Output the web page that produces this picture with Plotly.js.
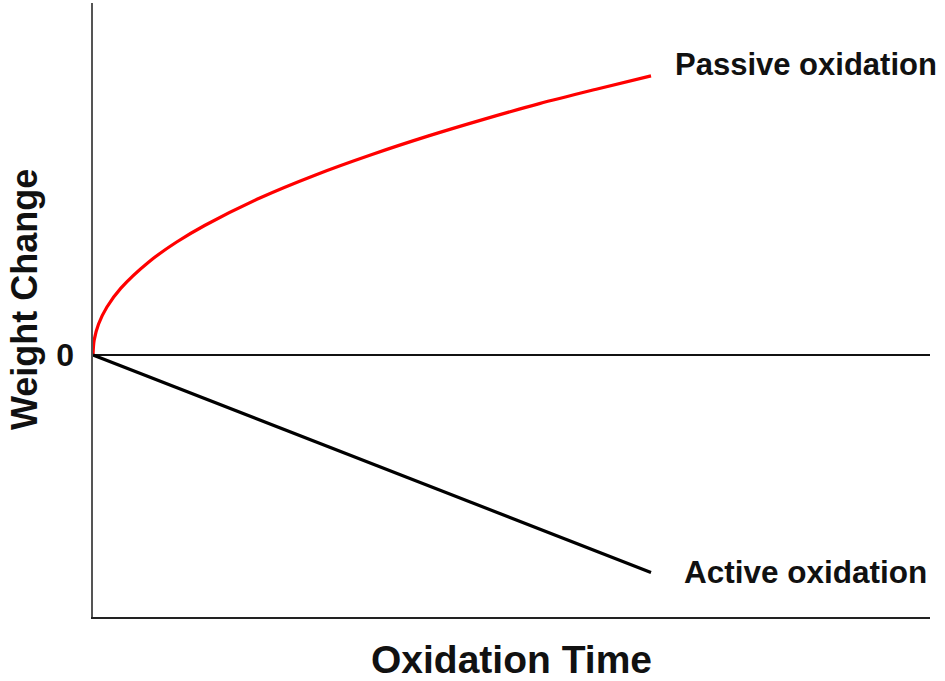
<!DOCTYPE html>
<html>
<head>
<meta charset="utf-8">
<script src="https://cdn.plot.ly/plotly-3.0.1.min.js"></script>
<style>html,body{margin:0;padding:0;background:#fff;}#chart{width:945px;height:681px;}</style>
</head>
<body>
<div id="chart"></div>
<script>
// Passive oxidation (parabolic weight gain)
const passiveTime = [0, 0.02, 0.1, 0.25, 0.5, 1, 1.5, 2, 3, 4, 5, 6, 7, 8, 9, 10];
const passiveWeight = [0, 0.55, 1.18, 1.83, 2.55, 3.55, 4.31, 4.94, 6.0, 6.88, 7.65, 8.35, 8.99, 9.59, 10.13, 10.65];
// Active oxidation (linear weight loss)
const activeTime = [0, 10];
const activeWeight = [0, -8.3];
const seriesNames = ["Passive oxidation", "Active oxidation"];
const axisTitles = ["Oxidation Time", "Weight Change"];
const yTickVals = [0];
const yTickText = ["0"];

const FONT = "Liberation Sans, Arial, sans-serif";

const data = [
  {x: passiveTime, y: passiveWeight, mode: "lines", name: seriesNames[0],
   line: {color: "#ff0000", width: 3.2, shape: "spline", smoothing: 0.8}, hoverinfo: "skip"},
  {x: activeTime, y: activeWeight, mode: "lines", name: seriesNames[1],
   line: {color: "#000000", width: 3.2}, hoverinfo: "skip"}
];

const layout = {
  width: 945, height: 681,
  margin: {l: 93, r: 15, t: 3, b: 64},
  paper_bgcolor: "#fff", plot_bgcolor: "#fff",
  showlegend: false,
  font: {family: FONT, color: "#111"},
  xaxis: {
    range: [0, 15], showgrid: false, zeroline: false,
    showline: true, linecolor: "#222", linewidth: 2,
    showticklabels: false, ticks: "", fixedrange: true,
    title: {text: axisTitles[0], font: {family: FONT, size: 39, weight: "bold", color: "#111"}, standoff: 30}
  },
  yaxis: {
    range: [-10, 13.43], showgrid: false,
    zeroline: true, zerolinecolor: "#111", zerolinewidth: 2,
    showline: true, linecolor: "#555", linewidth: 2.5,
    tickmode: "array", tickvals: yTickVals, ticktext: yTickText,
    ticks: "", ticklabelstandoff: 10,
    tickfont: {family: FONT, size: 32, weight: "bold", color: "#111"},
    fixedrange: true
  },
  annotations: [
    {x: 10.4, y: 11.1, xref: "x", yref: "y", xanchor: "left", yanchor: "middle",
     text: seriesNames[0], showarrow: false,
     font: {family: FONT, size: 31, weight: "bold", color: "#111"}},
    {x: 10.55, y: -8.28, xref: "x", yref: "y", xanchor: "left", yanchor: "middle",
     text: seriesNames[1], showarrow: false,
     font: {family: FONT, size: 31.5, weight: "bold", color: "#111"}},
    {x: 0, y: 0.5, xref: "paper", yref: "paper", xanchor: "center", yanchor: "middle",
     xshift: -69, yshift: 10, textangle: -90,
     text: axisTitles[1], showarrow: false,
     font: {family: FONT, size: 36, weight: "bold", color: "#111"}}
  ]
};

Plotly.newPlot("chart", data, layout, {displayModeBar: false, staticPlot: true});
</script>
</body>
</html>
